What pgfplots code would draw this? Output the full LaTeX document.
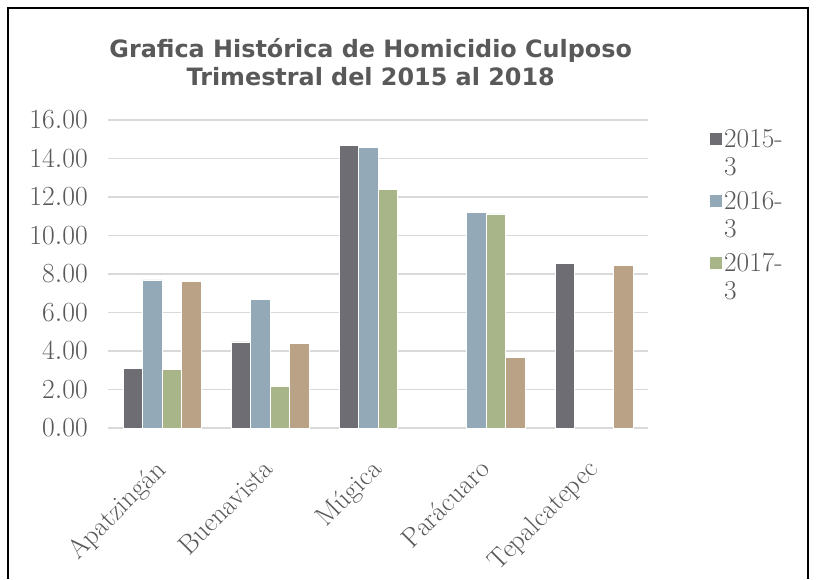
\documentclass[border=0pt]{standalone}
\usepackage{pgfplots}
\pgfplotsset{compat=1.18}
\usepackage{fontspec}
\newfontfamily\titlefont{DejaVu Sans}
\definecolor{c15}{HTML}{6E6D73}
\definecolor{c16}{HTML}{94A9B8}
\definecolor{c17}{HTML}{A8B588}
\definecolor{c18}{HTML}{B9A285}
\definecolor{txtgray}{HTML}{595959}
\definecolor{gridgray}{HTML}{D9D9D9}

\begin{document}
\begin{tikzpicture}
% canvas 816x579 px, 1px = 0.75pt
\path[use as bounding box] (0,0) rectangle (612pt,434.25pt);
\draw[line width=1.6pt] (6pt,0) -- (6pt,428.25pt) -- (606pt,428.25pt) -- (606pt,0);
\node[font=\titlefont\bfseries\fontsize{17.9}{21}\selectfont, text=txtgray, align=center]
  at (278pt,388pt) {Grafica Histórica de Homicidio Culposo\\Trimestral del 2015 al 2018};
\begin{axis}[
  at={(81pt,113.25pt)}, anchor=south west,
  scale only axis, width=405pt, height=231pt,
  ybar=0pt, bar width=14.6pt,
  xmin=-0.5, xmax=4.5, ymin=0, ymax=16,
  xtick={0,1,2,3,4},
  xticklabels={Apatzingán,Buenavista,Múgica,Parácuaro,Tepalcatepec},
  xticklabel style={rotate=45, anchor=north east, font=\fontsize{20.5}{22}\selectfont,
    text=txtgray, inner sep=0pt, xshift=-20pt, yshift=-11pt},
  ytick={0,2,...,16},
  yticklabel style={font=\fontsize{19.5}{22}\selectfont, text=txtgray, inner sep=0pt, xshift=-15pt},
  /pgf/number format/.cd, fixed, fixed zerofill, precision=2, /pgfplots/.cd,
  major tick length=0pt,
  axis line style={draw=none},
  ymajorgrids, grid style={gridgray, line width=1.1pt},
  every axis plot/.append style={draw=white, line width=0.4pt},
  legend style={at={(1.113,0.975)}, anchor=north west, draw=none, fill=none,
    inner sep=0pt, row sep=8.5pt,
    /tikz/every even column/.append style={column sep=3pt},
    nodes={align=left, font=\fontsize{20.5}{21}\selectfont, text=txtgray, inner sep=1pt}},
  legend cell align=left,
  legend image code/.code={\fill[#1] (0pt,6pt) rectangle (9.75pt,15.75pt);},
]
\addplot[fill=c15] coordinates {(0,3.08) (1,4.47) (2,14.67) (4,8.54)};
\addlegendentry{2015-\\3}
\addplot[fill=c16] coordinates {(0,7.69) (1,6.68) (2,14.56) (3,11.19)};
\addlegendentry{2016-\\3}
\addplot[fill=c17] coordinates {(0,3.05) (1,2.18) (2,12.40) (3,11.12)};
\addlegendentry{2017-\\3}
\addplot[fill=c18] coordinates {(0,7.60) (1,4.38) (3,3.67) (4,8.45)};
\end{axis}
\end{tikzpicture}
\end{document}
